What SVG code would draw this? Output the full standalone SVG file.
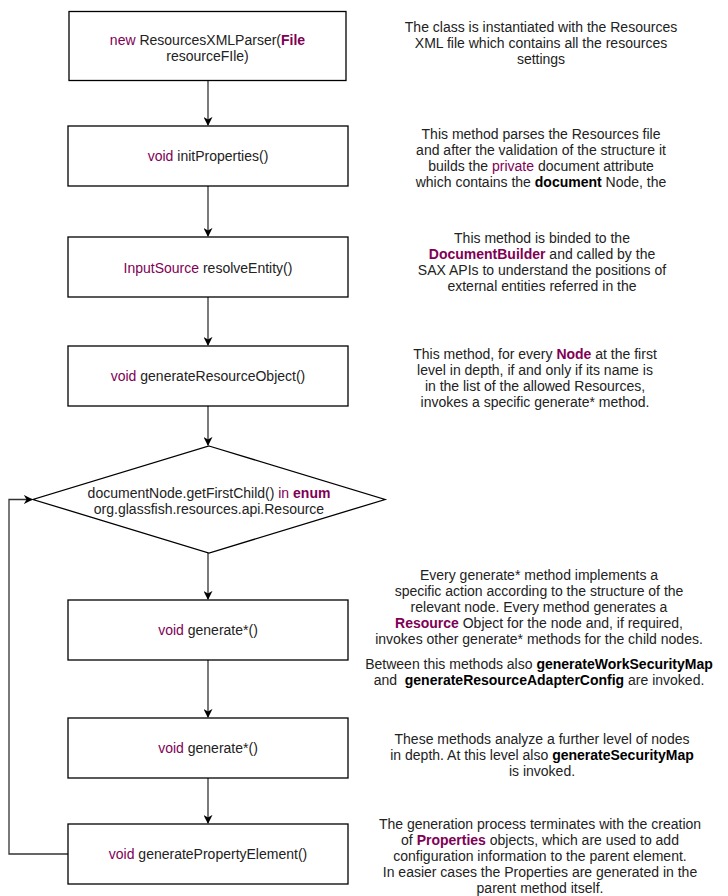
<svg xmlns="http://www.w3.org/2000/svg" width="728" height="896" viewBox="0 0 728 896">
<defs>
<style>
text{font-family:"Liberation Sans",Arial,sans-serif;font-size:14px;fill:#222;text-anchor:middle}
.k{fill:#7f0055}
.kb{fill:#7f0055;font-weight:bold}
.b{font-weight:bold;fill:#000}
.box{fill:#fff;stroke:#000;stroke-width:1.3}
.edge{fill:none;stroke:#333;stroke-width:1.3}
</style>
<marker id="arr" viewBox="0 0 10 10" refX="9" refY="5" markerWidth="9" markerHeight="9" markerUnits="userSpaceOnUse" orient="auto">
<path d="M0,0 L10,5 L0,10 L3,5 Z" fill="#000"/>
</marker>
</defs>
<rect width="728" height="896" fill="#fff"/>
<g id="connectors">
<line class="edge" x1="208" y1="81" x2="208" y2="125" marker-end="url(#arr)"/>
<line class="edge" x1="208" y1="186" x2="208" y2="236" marker-end="url(#arr)"/>
<line class="edge" x1="208" y1="297" x2="208" y2="345" marker-end="url(#arr)"/>
<line class="edge" x1="208" y1="406" x2="208" y2="445" marker-end="url(#arr)"/>
<line class="edge" x1="208" y1="553" x2="208" y2="599" marker-end="url(#arr)"/>
<line class="edge" x1="208" y1="660" x2="208" y2="717" marker-end="url(#arr)"/>
<line class="edge" x1="208" y1="778" x2="208" y2="823" marker-end="url(#arr)"/>
<polyline class="edge" points="68,854 9,854 9,499.5 32,499.5" marker-end="url(#arr)"/>
</g>
<g id="n1">
<rect class="box" x="69" y="11.5" width="277" height="69"/>
<text x="207.5" y="44.5"><tspan class="k">new</tspan> ResourcesXMLParser(<tspan class="kb">File</tspan></text>
<text x="207.5" y="60.5">resourceFIle)</text>
</g>
<g id="n2">
<rect class="box" x="68" y="126" width="280" height="60"/>
<text x="208" y="161"><tspan class="k">void</tspan> initProperties()</text>
</g>
<g id="n3">
<rect class="box" x="68" y="237" width="280" height="60"/>
<text x="208" y="273"><tspan class="k">InputSource</tspan> resolveEntity()</text>
</g>
<g id="n4">
<rect class="box" x="68" y="346" width="280" height="60"/>
<text x="208" y="381"><tspan class="k">void</tspan> generateResourceObject()</text>
</g>
<g id="n5">
<polygon class="box" points="209,446 385,499.5 209,553 33,499.5"/>
<text x="209" y="497.5">documentNode.getFirstChild() <tspan class="k">in</tspan> <tspan class="kb">enum</tspan></text>
<text x="209" y="513.5">org.glassfish.resources.api.Resource</text>
</g>
<g id="n6">
<rect class="box" x="68" y="600" width="280" height="60"/>
<text x="208" y="635"><tspan class="k">void</tspan> generate*()</text>
</g>
<g id="n7">
<rect class="box" x="68" y="718" width="280" height="60"/>
<text x="208" y="753"><tspan class="k">void</tspan> generate*()</text>
</g>
<g id="n8">
<rect class="box" x="68" y="824" width="280" height="60"/>
<text x="208" y="859"><tspan class="k">void</tspan> generatePropertyElement()</text>
</g>
<g id="note1">
<text x="541" y="32">The class is instantiated with the Resources</text>
<text x="541" y="48">XML file which contains all the resources</text>
<text x="541" y="64">settings</text>
</g>
<g id="note2">
<text x="541" y="139">This method parses the Resources file</text>
<text x="541" y="155">and after the validation of the structure it</text>
<text x="541" y="171">builds the <tspan class="k">private</tspan> document attribute</text>
<text x="541" y="187">which contains the <tspan class="b">document</tspan> Node, the</text>
</g>
<g id="note3">
<text x="542" y="242.5">This method is binded to the</text>
<text x="542" y="258.5"><tspan class="kb">DocumentBuilder</tspan> and called by the</text>
<text x="542" y="274.5">SAX APIs to understand the positions of</text>
<text x="542" y="290.5">external entities referred in the</text>
</g>
<g id="note4">
<text x="535" y="359">This method, for every <tspan class="kb">Node</tspan> at the first</text>
<text x="535" y="375">level in depth, if and only if its name is</text>
<text x="535" y="391">in the list of the allowed Resources,</text>
<text x="535" y="407">invokes a specific generate* method.</text>
</g>
<g id="note5">
<text x="539" y="580">Every generate* method implements a</text>
<text x="539" y="596">specific action according to the structure of the</text>
<text x="539" y="612">relevant node. Every method generates a</text>
<text x="539" y="628"><tspan class="kb">Resource</tspan> Object for the node and, if required,</text>
<text x="539" y="644">invokes other generate* methods for the child nodes.</text>
<text x="539" y="669">Between this methods also <tspan class="b">generateWorkSecurityMap</tspan></text>
<text x="539" y="685" xml:space="preserve">and  <tspan class="b">generateResourceAdapterConfig</tspan> are invoked.</text>
</g>
<g id="note6">
<text x="542" y="744">These methods analyze a further level of nodes</text>
<text x="542" y="760">in depth. At this level also <tspan class="b">generateSecurityMap</tspan></text>
<text x="542" y="776">is invoked.</text>
</g>
<g id="note7">
<text x="540" y="829">The generation process terminates with the creation</text>
<text x="540" y="845">of <tspan class="kb">Properties</tspan> objects, which are used to add</text>
<text x="540" y="861">configuration information to the parent element.</text>
<text x="540" y="877">In easier cases the Properties are generated in the</text>
<text x="540" y="893">parent method itself.</text>
</g>
</svg>
